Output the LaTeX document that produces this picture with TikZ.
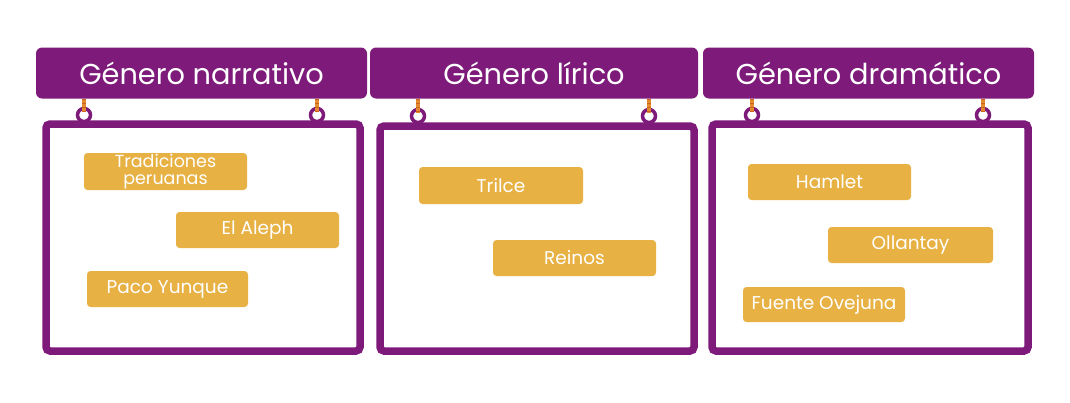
\documentclass[tikz,border=0pt]{standalone}
\usepackage{fontspec}
\setmainfont{Poppins}
\definecolor{plum}{HTML}{7D1A7A}
\definecolor{mustard}{HTML}{E7B144}
\definecolor{rope}{HTML}{E58A2E}
\definecolor{ropedark}{HTML}{C8641E}
\begin{document}
\begin{tikzpicture}[x=1pt,y=-1pt,
  header/.style={fill=plum, rounded corners=6pt, minimum height=51pt, text=white,
    font=\fontsize{28.8}{30}\selectfont, inner sep=0pt},
  board/.style={draw=plum, line width=7.5pt, fill=white, rounded corners=4pt, inner sep=0pt},
  tag/.style={fill=mustard, rounded corners=3.5pt, minimum height=36pt, minimum width=163pt,
    text=white, font=\fontsize{18.5}{17}\selectfont, align=center, inner sep=0pt},
  cord/.style={draw=rope, line width=4.5pt},
  cordmark/.style={draw=ropedark, line width=4.5pt, dash pattern=on 1.5pt off 2.5pt},
  ring/.style={draw=plum, line width=3.5pt, fill=white, circle, minimum size=13pt, inner sep=0pt}
]
\useasboundingbox (0,0) rectangle (1070,402);

% title bars
\node[header, minimum width=331pt] (h1) at (201.5,73) {Género narrativo};
\node[header, minimum width=328pt] (h2) at (534,73) {Género lírico};
\node[header, minimum width=331pt] (h3) at (868.5,73) {Género dramático};

% hanging points
\coordinate (r11) at (84,115);
\coordinate (r12) at (317,115);
\coordinate (r21) at (418,116);
\coordinate (r22) at (649,116);
\coordinate (r31) at (752,115);
\coordinate (r32) at (983,115);
\foreach \r/\h in {r11/h1, r12/h1, r21/h2, r22/h2, r31/h3, r32/h3}{
  \node[ring] at (\r) {};
  \draw[cord] (\h.south -| \r) -- ([yshift=3pt]\r);
  \draw[cordmark] (\h.south -| \r) -- ([yshift=3pt]\r);
}

% boards
\node[board, minimum width=314pt, minimum height=227pt] (b1) at (203,237.5) {};
\node[board, minimum width=314pt, minimum height=225pt] (b2) at (537,238.5) {};
\node[board, minimum width=316pt, minimum height=227pt] (b3) at (870,237.5) {};

% works
\node[tag, minimum height=37pt, font=\fontsize{17.5}{17.5}\selectfont] (t11) at (165.5,171.5) {Tradiciones\\peruanas};
\node[tag] (t12) at (257.5,230) {El Aleph};
\node[tag, minimum width=161pt] (t13) at (167.5,289) {Paco Yunque};

\node[tag, minimum width=164pt, minimum height=37pt] (t21) at (501,185.5) {Trilce};
\node[tag] (t22) at (574.5,258) {Reinos};

\node[tag] (t31) at (829.5,182) {Hamlet};
\node[tag, minimum width=165pt] (t32) at (910.5,245) {Ollantay};
\node[tag, minimum width=162pt, minimum height=35pt] (t33) at (824,304.5) {Fuente Ovejuna};
\end{tikzpicture}
\end{document}
